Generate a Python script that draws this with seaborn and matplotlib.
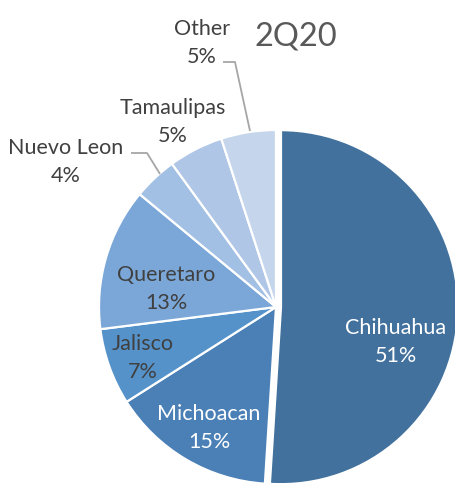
import matplotlib
matplotlib.use("Agg")
import matplotlib.pyplot as plt
import seaborn as sns

states = ["Chihuahua", "Michoacan", "Jalisco", "Queretaro", "Nuevo Leon", "Tamaulipas", "Other"]
shares = [51, 15, 7, 13, 4, 5, 5]
colors = ["#41719C", "#4A80B6", "#5592CA", "#7AA7D8", "#A2C0E4", "#AFC6E6", "#C5D6EC"]
explode = [5, 0, 0, 0, 0, 0, 0]
title = "2Q20"

sns.set_theme(style="white")
plt.rcParams["font.family"] = ["Lato", "DejaVu Sans"]

W, H = 456, 483
fig = plt.figure(figsize=(W / 100, H / 100), dpi=100)
ax = fig.add_axes([0, 0, 1, 1])

def Y(p):
    return H - p

ax.pie(shares, colors=colors, startangle=90, counterclock=False,
       center=(276, Y(307)), radius=177, explode=explode,
       wedgeprops=dict(edgecolor="white", linewidth=1.6), frame=True)
ax.set_xlim(0, W)
ax.set_ylim(0, H)
ax.set_aspect("equal")
ax.axis("off")

dark = "#404040"
label_pos = {
    "Chihuahua": (396, 342, "white"),
    "Michoacan": (209, 428, "white"),
    "Jalisco": (143, 358, dark),
    "Queretaro": (166, 289, dark),
    "Nuevo Leon": (66, 162, dark),
    "Tamaulipas": (173, 122, dark),
    "Other": (202, 43, dark),
}
for s, v in zip(states, shares):
    x, y, c = label_pos[s]
    ax.text(x, Y(y), f"{s}\n{v}%", ha="center", va="center", fontsize=15.5,
            color=c, linespacing=1.52)

lc = "#A6A6A6"
ax.plot([131, 147, 160], [Y(153), Y(153), Y(174)], color=lc, lw=1.3, solid_capstyle="butt")
ax.plot([223, 235, 250], [Y(62), Y(62), Y(131)], color=lc, lw=1.3, solid_capstyle="butt")

ax.text(296, Y(37), title, ha="center", va="center", fontsize=23.5, color="#595959")

fig.savefig("out.png", dpi=100)
